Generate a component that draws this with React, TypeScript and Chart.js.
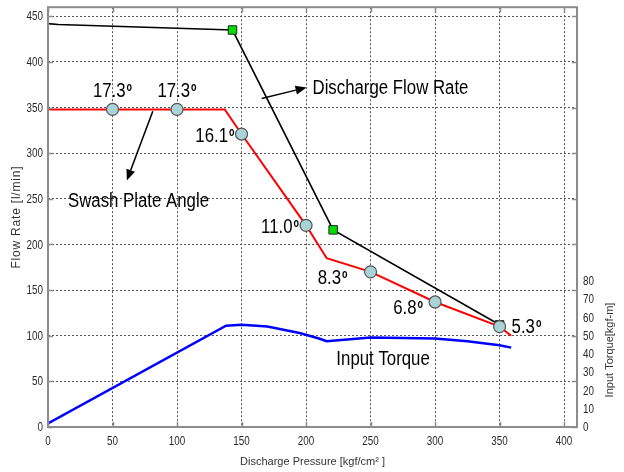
import React, { useEffect, useRef } from "react";
import { Chart, registerables } from "chart.js";

Chart.register(...registerables);

// ---- data ----
const flowPressure = [0, 8, 143, 221, 350];
const flowRate = [442, 441, 435, 216, 112];
const squarePressure = [143, 221, 350];
const squareFlow = [435, 216, 112];
const anglePressure = [0, 137, 150, 200, 216, 250, 300, 350, 359];
const angleFlow = [348, 348, 321, 221, 185, 170, 137, 110, 100];
const markerPressure = [50, 100, 150, 200, 250, 300, 350];
const markerFlow = [348, 348, 321, 221, 170, 137, 110];
const angleLabels = ["17.3", "17.3", "16.1", "11.0", "8.3", "6.8", "5.3"];
const torquePressure = [0, 138, 150, 170, 195, 210, 216, 250, 300, 325, 350, 359];
const torqueValues = [2, 55.5, 56, 55, 51.5, 48.5, 47, 49, 48.5, 47, 44.8, 43.5];
const xTicks = [0, 50, 100, 150, 200, 250, 300, 350, 400];
const yTicks = [0, 50, 100, 150, 200, 250, 300, 350, 400, 450];
const y2Ticks = [0, 10, 20, 30, 40, 50, 60, 70, 80];

const xTitle = "Discharge Pressure [kgf/cm² ]";
const yTitle = "Flow Rate [l/min]";
const y2Title = "Input Torque[kgf-m]";

// ---- layout (pixels) ----
const labelLayout = [
  { dx: 0, dy: -12, align: "center" },
  { dx: 0, dy: -12, align: "center" },
  { dx: -7, dy: 8, align: "right" },
  { dx: -7, dy: 8, align: "right" },
  { dx: -23, dy: 12.5, align: "right" },
  { dx: -12, dy: 12, align: "right" },
  { dx: 12, dy: 6, align: "left" },
];

const SANS = "'Liberation Sans', Arial, sans-serif";
const SQUEEZE = 0.84;

function pts(xs: number[], ys: number[]) {
  return xs.map((x, i) => ({ x, y: ys[i] }));
}

function squeezedText(
  ctx: CanvasRenderingContext2D,
  text: string,
  x: number,
  y: number,
  font: string,
  scaleX: number,
  align: string
) {
  ctx.save();
  ctx.font = font;
  const w = ctx.measureText(text).width * scaleX;
  let left = x;
  if (align === "center") left = x - w / 2;
  else if (align === "right") left = x - w;
  ctx.translate(left, y);
  ctx.scale(scaleX, 1);
  ctx.textAlign = "left";
  ctx.fillText(text, 0, 0);
  ctx.restore();
  return w;
}

function measureSqueezed(ctx: CanvasRenderingContext2D, text: string, font: string, scaleX: number) {
  ctx.save();
  ctx.font = font;
  const w = ctx.measureText(text).width * scaleX;
  ctx.restore();
  return w;
}

function drawArrow(ctx: CanvasRenderingContext2D, x1: number, y1: number, x2: number, y2: number) {
  const ang = Math.atan2(y2 - y1, x2 - x1);
  const len = 11;
  const hw = 4.5;
  const bx = x2 - len * Math.cos(ang);
  const by = y2 - len * Math.sin(ang);
  ctx.beginPath();
  ctx.moveTo(x1, y1);
  ctx.lineTo(bx, by);
  ctx.stroke();
  ctx.beginPath();
  ctx.moveTo(x2, y2);
  ctx.lineTo(bx + hw * Math.sin(ang), by - hw * Math.cos(ang));
  ctx.lineTo(bx - hw * Math.sin(ang), by + hw * Math.cos(ang));
  ctx.closePath();
  ctx.fill();
}

const overlay = {
  id: "overlay",
  afterDatasetsDraw(chart: any) {
    const { ctx, chartArea: a, scales } = chart;
    const sx = scales.x;
    const sy = scales.y;
    const sy2 = scales.y2;
    ctx.save();
    // frame
    ctx.strokeStyle = "#8c8c8c";
    ctx.lineWidth = 2;
    ctx.strokeRect(a.left, a.top, a.right - a.left, a.bottom - a.top);
    // inner ticks
    ctx.lineWidth = 1.5;
    ctx.beginPath();
    xTicks.forEach((v) => {
      const p = Math.round(sx.getPixelForValue(v)) + 0.5;
      ctx.moveTo(p, a.bottom);
      ctx.lineTo(p, a.bottom - 5);
      ctx.moveTo(p, a.top);
      ctx.lineTo(p, a.top + 5);
    });
    yTicks.forEach((v) => {
      const p = Math.round(sy.getPixelForValue(v)) + 0.5;
      ctx.moveTo(a.left, p);
      ctx.lineTo(a.left + 5, p);
      ctx.moveTo(a.right, p);
      ctx.lineTo(a.right - 5, p);
    });
    ctx.stroke();

    // tick labels
    ctx.fillStyle = "#2a2a2a";
    ctx.textBaseline = "middle";
    const tf = `13px ${SANS}`;
    xTicks.forEach((v) => {
      squeezedText(ctx, String(v), sx.getPixelForValue(v), 441, tf, 0.76, "center");
    });
    yTicks.forEach((v) => {
      squeezedText(ctx, String(v), a.left - 5, sy.getPixelForValue(v) + 0.5, tf, 0.76, "right");
    });
    y2Ticks.forEach((v) => {
      squeezedText(ctx, String(v), a.right + 6, sy2.getPixelForValue(v) + 0.5, tf, 0.76, "left");
    });

    // titles
    ctx.fillStyle = "#333";
    ctx.textAlign = "center";
    ctx.font = `11px ${SANS}`;
    ctx.fillText(xTitle, (a.left + a.right) / 2, 462);
    ctx.save();
    ctx.translate(17, (a.top + a.bottom) / 2);
    ctx.rotate(-Math.PI / 2);
    (ctx as any).letterSpacing = "0.8px";
    ctx.font = `12px ${SANS}`;
    ctx.fillText(yTitle, 0, 0);
    ctx.restore();
    ctx.save();
    ctx.translate(610, 350);
    ctx.rotate(-Math.PI / 2);
    ctx.font = `11px ${SANS}`;
    ctx.fillText(y2Title, 0, 0);
    ctx.restore();

    // angle labels
    ctx.fillStyle = "#000";
    ctx.textBaseline = "alphabetic";
    const mainFont = `20px ${SANS}`;
    const supFont = `bold 12px ${SANS}`;
    markerPressure.forEach((p, i) => {
      const px = sx.getPixelForValue(p);
      const py = sy.getPixelForValue(markerFlow[i]);
      const L = labelLayout[i];
      const w = measureSqueezed(ctx, angleLabels[i], mainFont, SQUEEZE);
      const wo = measureSqueezed(ctx, "o", supFont, 0.75);
      const total = w + 1 + wo;
      let left = px + L.dx;
      if (L.align === "center") left = px - total / 2;
      else if (L.align === "right") left = px + L.dx - total;
      const base = py + L.dy;
      squeezedText(ctx, angleLabels[i], left, base, mainFont, SQUEEZE, "left");
      squeezedText(ctx, "o", left + w + 1, base - 6, supFont, 0.75, "left");
    });

    // annotations
    squeezedText(ctx, "Discharge Flow Rate", sx.getPixelForValue(205), sy.getPixelForValue(364.5), mainFont, SQUEEZE, "left");
    squeezedText(ctx, "Swash Plate Angle", sx.getPixelForValue(15.5), sy.getPixelForValue(241), mainFont, SQUEEZE, "left");
    squeezedText(ctx, "Input Torque", sx.getPixelForValue(223.5), sy.getPixelForValue(67.5), mainFont, SQUEEZE, "left");

    ctx.strokeStyle = "#000";
    ctx.fillStyle = "#000";
    ctx.lineWidth = 1.5;
    drawArrow(ctx, sx.getPixelForValue(165.6), sy.getPixelForValue(360), sx.getPixelForValue(200.4), sy.getPixelForValue(372));
    drawArrow(ctx, sx.getPixelForValue(81.2), sy.getPixelForValue(346), sx.getPixelForValue(61.1), sy.getPixelForValue(270));
    ctx.restore();
  },
};

export default function App() {
  const ref = useRef<HTMLCanvasElement | null>(null);
  useEffect(() => {
    document.body.style.margin = "0";
    const canvas = ref.current;
    if (!canvas) return;
    const chart = new Chart(canvas, {
      type: "line",
      data: {
        datasets: [
          {
            label: "markers",
            data: pts(markerPressure, markerFlow),
            showLine: false,
            pointStyle: "circle",
            pointRadius: 6,
            pointBackgroundColor: "#a8d4d8",
            pointBorderColor: "#555",
            pointBorderWidth: 1.2,
            yAxisID: "y",
            order: 0,
          },
          {
            label: "squares",
            data: pts(squarePressure, squareFlow),
            showLine: false,
            pointStyle: "rect",
            pointRadius: 6,
            pointBackgroundColor: ["#00dd00", "#00dd00", "#333333"],
            pointBorderColor: "#222",
            pointBorderWidth: 1,
            yAxisID: "y",
            order: 1,
          },
          {
            label: "Discharge Flow Rate",
            data: pts(flowPressure, flowRate),
            borderColor: "#000",
            borderWidth: 1.6,
            pointRadius: 0,
            tension: 0,
            yAxisID: "y",
            order: 2,
          },
          {
            label: "Swash Plate Angle",
            data: pts(anglePressure, angleFlow),
            borderColor: "#ff0000",
            borderWidth: 2,
            pointRadius: 0,
            tension: 0,
            yAxisID: "y",
            order: 3,
          },
          {
            label: "Input Torque",
            data: pts(torquePressure, torqueValues),
            borderColor: "#0000ff",
            borderWidth: 2.5,
            pointRadius: 0,
            tension: 0,
            yAxisID: "y2",
            order: 4,
          },
        ],
      },
      options: {
        responsive: false,
        animation: false,
        devicePixelRatio: 1,
        layout: { padding: { top: 6, left: 0, right: 0, bottom: 0 } },
        plugins: { legend: { display: false }, tooltip: { enabled: false } },
        scales: {
          x: {
            type: "linear",
            min: 0,
            max: 410,
            afterBuildTicks: (s: any) => {
              s.ticks = xTicks.map((v) => ({ value: v }));
            },
            afterFit: (s: any) => {
              s.height = 45;
            },
            grid: { color: "#555", lineWidth: 1, drawTicks: false },
            border: { display: false, dash: [2, 2] },
            ticks: { display: false },
          },
          y: {
            type: "linear",
            position: "left",
            min: 0,
            max: 460,
            afterBuildTicks: (s: any) => {
              s.ticks = yTicks.map((v) => ({ value: v }));
            },
            afterFit: (s: any) => {
              s.width = 48;
            },
            grid: { color: "#555", lineWidth: 1, drawTicks: false },
            border: { display: false, dash: [2, 2] },
            ticks: { display: false },
          },
          y2: {
            type: "linear",
            position: "right",
            min: 0,
            max: 230,
            afterBuildTicks: (s: any) => {
              s.ticks = y2Ticks.map((v) => ({ value: v }));
            },
            afterFit: (s: any) => {
              s.width = 47;
            },
            grid: { display: false, drawTicks: false },
            border: { display: false },
            ticks: { display: false },
          },
        },
      },
      plugins: [overlay],
    } as any);
    return () => chart.destroy();
  }, []);
  return (
    <div style={{ width: 624, height: 472, background: "#fff" }}>
      <canvas ref={ref} width={624} height={472} style={{ display: "block" }} />
    </div>
  );
}
